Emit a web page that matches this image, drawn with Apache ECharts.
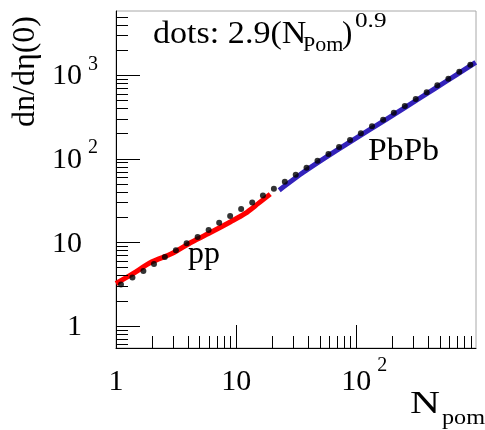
<!DOCTYPE html>
<html>
<head>
<meta charset="utf-8">
<script src="https://cdn.jsdelivr.net/npm/echarts@6/dist/echarts.min.js"></script>
<style>
  html, body { margin: 0; padding: 0; background: #fff; }
  #chart { width: 485px; height: 430px; }
</style>
</head>
<body>
<div id="chart"></div>
<script>
// pp curve (red)
const ppN = [1.0, 1.36, 1.99, 2.92, 4.28, 6.28, 9.0, 11.9, 15.3, 19.2];
const ppY = [3.25, 4.2, 5.9, 7.4, 10.2, 13.5, 17.8, 22.4, 29.5, 38.1];

// PbPb curve (blue)
const pbN = [22.8, 36, 68, 129, 244, 463, 679, 985];
const pbY = [42.5, 69, 126, 225, 398, 716, 1015, 1430];

// dots: 2.9 (N_Pom)^0.9
const dotN = [1.10, 1.37, 1.69, 2.07, 2.55, 3.15, 3.87, 4.78, 5.90, 7.22, 8.91, 11.0, 13.6, 16.7,
  20.6, 25.4, 31.3, 38.5, 47.5, 58.6, 71.8, 88.6, 109, 135, 167, 205, 253, 312, 385, 472, 583, 719, 888];
const dotY = [3.16, 3.83, 4.59, 5.57, 6.76, 8.13, 9.86, 11.7, 14.2, 17.3, 20.8, 25.2, 30.3, 36.7,
  44.1, 53.5, 64.9, 78.7, 95.4, 115, 139, 169, 203, 247, 296, 358, 431, 523, 630, 764, 916, 1111, 1340];

// axes
const X_MIN = 1, X_MAX = 990, Y_MIN = 0.55, Y_MAX = 5900;
const xMajorTicks = [1, 10, 100];
const xMinorTicks = [2, 3, 4, 5, 6, 7, 8, 9, 20, 30, 40, 50, 60, 70, 80, 90, 200, 300, 400, 500, 600, 700, 800, 900];
const yMajorTicks = [1, 10, 100, 1000];
const yMinorTicks = [0.6, 0.7, 0.8, 0.9, 2, 3, 4, 5, 6, 7, 8, 9, 20, 30, 40, 50, 60, 70, 80, 90,
  200, 300, 400, 500, 600, 700, 800, 900, 2000, 3000, 4000, 5000];
const xTickLabels = ['1', '10', '10'];
const xTickSups = ['', '', '2'];
const yTickLabels = ['1', '10', '10', '10'];
const yTickSups = ['', '', '2', '3'];

const FONT = '"Liberation Serif", "DejaVu Serif", serif';
const crisp = v => Math.round(v - 0.5) + 0.5;

const zip = (a, b) => a.map((v, i) => [v, b[i]]);

function xTicks(vals, len) {
  return {
    type: 'custom', silent: true, z: 5,
    data: vals.map(v => [v, Y_MIN]),
    renderItem: (params, api) => {
      const p = api.coord([api.value(0), Y_MIN]);
      const x = crisp(p[0]);
      return { type: 'line', shape: { x1: x, y1: p[1], x2: x, y2: p[1] - len },
        style: { stroke: '#000', lineWidth: 1 } };
    }
  };
}

function yTicks(vals, len) {
  return {
    type: 'custom', silent: true, z: 5,
    data: vals.map(v => [X_MIN, v]),
    renderItem: (params, api) => {
      const p = api.coord([X_MIN, api.value(1)]);
      const y = crisp(p[1]);
      return { type: 'line', shape: { x1: p[0], y1: y, x2: p[0] + len, y2: y },
        style: { stroke: '#000', lineWidth: 1 } };
    }
  };
}

const xLabels = {
  type: 'custom', silent: true, z: 5,
  data: xMajorTicks.map(v => [v, Y_MIN]),
  renderItem: (params, api) => {
    const i = params.dataIndex;
    const p = api.coord([api.value(0), Y_MIN]);
    const cy = p[1] + 34;
    return { type: 'group', children: [
      { type: 'text', style: { text: xTickLabels[i], x: p[0], y: cy, font: '30px ' + FONT,
        align: 'center', verticalAlign: 'middle', fill: '#000' } },
      { type: 'text', style: { text: xTickSups[i], x: p[0] + 21, y: cy - 16, font: '20px ' + FONT,
        align: 'left', verticalAlign: 'middle', fill: '#000' } }
    ] };
  }
};

const yLabels = {
  type: 'custom', silent: true, z: 5,
  data: yMajorTicks.map(v => [X_MIN, v]),
  renderItem: (params, api) => {
    const i = params.dataIndex;
    const p = api.coord([X_MIN, api.value(1)]);
    const rx = p[0] - 34;
    return { type: 'group', children: [
      { type: 'text', style: { text: yTickLabels[i], x: rx, y: p[1] + 1, font: '30px ' + FONT,
        align: 'right', verticalAlign: 'middle', fill: '#000' } },
      { type: 'text', style: { text: yTickSups[i], x: rx + 6, y: p[1] - 11, font: '20px ' + FONT,
        align: 'left', verticalAlign: 'middle', fill: '#000' } }
    ] };
  }
};

// plain text placed in pixels; sx stretches it to the reference width
const txt = (text, x, y, size, sx) => ({
  type: 'text', x: x, y: y, scaleX: sx || 1, silent: true,
  style: { text: text, font: size + 'px ' + FONT, fill: '#000', align: 'left', verticalAlign: 'middle' }
});

const chart = echarts.init(document.getElementById('chart'), null, { renderer: 'canvas' });
chart.setOption({
  animation: false,
  backgroundColor: '#fff',
  grid: { left: 116, right: 9, top: 11, bottom: 82, show: true, borderColor: '#a8a8a8', borderWidth: 1 },
  xAxis: {
    type: 'log', logBase: 10, min: X_MIN, max: X_MAX,
    axisLine: { show: true, lineStyle: { color: '#000', width: 1 } },
    axisTick: { show: false }, axisLabel: { show: false }, splitLine: { show: false }
  },
  yAxis: {
    type: 'log', logBase: 10, min: Y_MIN, max: Y_MAX,
    axisLine: { show: true, lineStyle: { color: '#000', width: 1 } },
    axisTick: { show: false }, axisLabel: { show: false }, splitLine: { show: false }
  },
  graphic: [
    txt('dots: 2.9(N', 153, 35, 31, 1.1),
    txt('Pom', 303, 45.5, 22),
    txt(')', 342, 35, 31),
    txt('0.9', 355, 21, 21, 1.2),
    txt('PbPb', 368, 152, 32, 1.05),
    txt('pp', 188, 255, 32),
    txt('N', 410, 405, 32, 1.3),
    txt('pom', 442, 418, 22, 1.1),
    {
      type: 'text', x: 26, y: 71.5, rotation: Math.PI / 2, silent: true,
      style: { text: 'dn/d\u03b7(0)', font: '32px ' + FONT, fill: '#000', align: 'center', verticalAlign: 'middle' }
    }
  ],
  series: [
    { name: 'pp', type: 'line', data: zip(ppN, ppY), showSymbol: false, smooth: 0.3,
      lineStyle: { color: '#ff0000', width: 5 }, z: 2 },
    { name: 'PbPb', type: 'line', data: zip(pbN, pbY), showSymbol: false, smooth: 0.2,
      lineStyle: { color: '#3322bb', width: 5 }, z: 2 },
    { name: 'dots', type: 'scatter', data: zip(dotN, dotY), symbol: 'circle', symbolSize: 6,
      itemStyle: { color: '#000' }, z: 3 },
    xTicks(xMajorTicks, 23),
    xTicks(xMinorTicks, 12),
    yTicks(yMajorTicks, 24),
    yTicks(yMinorTicks, 12),
    xLabels,
    yLabels
  ]
});
</script>
</body>
</html>
